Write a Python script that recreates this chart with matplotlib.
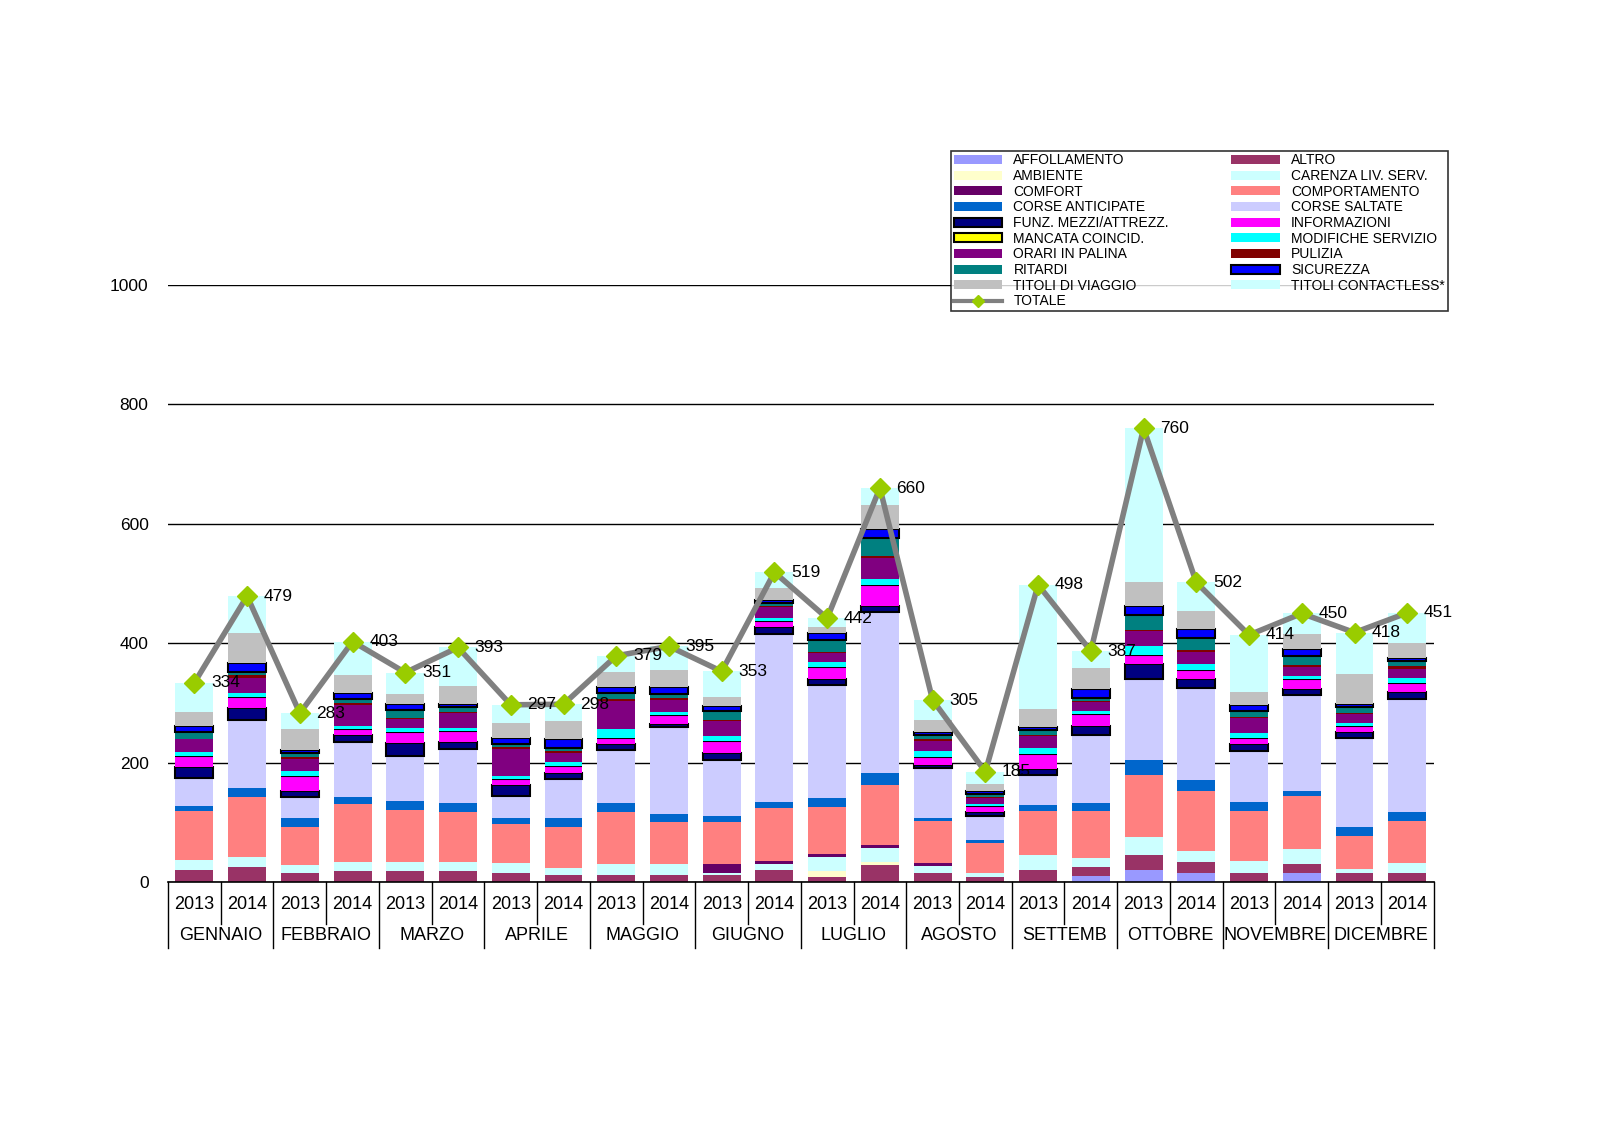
import matplotlib
matplotlib.use("Agg")
import matplotlib.pyplot as plt
from matplotlib.lines import Line2D
from matplotlib.patches import Patch
import numpy as np

plt.rcParams['font.family'] = ['Liberation Sans', 'DejaVu Sans']

months = ["GENNAIO","FEBBRAIO","MARZO","APRILE","MAGGIO","GIUGNO","LUGLIO","AGOSTO","SETTEMB","OTTOBRE","NOVEMBRE","DICEMBRE"]
years = ["2013","2014"]

affollamento = [0,0,0,0,0,0,0,0,0,0,0,0,0,0,0,0,0,10,20,15,0,15,0,0]
altro        = [20,25,15,18,18,18,15,12,12,12,12,20,8,28,15,8,20,15,25,18,15,15,15,15]
ambiente     = [0,0,0,0,0,0,0,0,0,0,0,0,10,5,0,0,0,0,0,0,0,0,0,0]
carenza      = [17,17,13,15,15,15,17,12,18,18,3,10,25,25,12,7,25,15,30,20,20,25,7,17]
comfort      = [0,0,0,0,0,0,0,0,0,0,15,5,5,5,5,0,0,0,0,0,0,0,0,0]
comportamento= [83,100,65,98,88,85,65,68,88,70,70,90,78,100,70,50,75,80,105,100,85,90,55,70]
corse_ant    = [7,15,15,12,15,15,10,15,15,15,10,10,15,20,5,5,10,12,25,18,15,8,15,15]
corse_salt   = [48,115,35,92,75,90,38,65,88,145,95,280,190,270,85,40,50,115,135,155,85,160,150,190]
funz_mezzi   = [18,20,10,12,22,12,18,10,10,5,12,12,10,10,5,8,10,15,25,15,12,10,10,12]
informazioni = [19,18,25,10,18,18,10,12,10,15,20,10,20,35,12,10,25,20,15,15,10,18,10,15]
mancata      = [0]*24
modifiche    = [6,7,8,5,7,5,5,8,15,5,8,5,8,10,10,3,10,5,15,10,8,5,5,8]
orari_palina = [22,25,20,35,15,25,45,15,48,20,25,18,15,35,18,10,20,15,25,20,25,15,15,15]
pulizia      = [0,5,3,3,2,2,3,3,3,3,2,3,2,3,2,2,2,2,3,3,2,3,2,5]
ritardi      = [12,5,7,7,13,8,5,5,10,7,15,5,20,30,8,5,8,5,25,20,10,15,10,8]
sicurezza    = [10,15,5,10,10,5,10,15,10,12,8,5,12,15,5,5,5,15,15,15,10,12,5,5]
titoli       = [23,50,35,30,17,30,25,30,25,28,15,20,10,40,20,12,30,35,40,30,22,25,50,25]
contactless  = [49,62,27,56,36,65,31,28,27,40,43,26,14,29,33,20,208,28,257,48,95,34,69,51]
totale       = [334,479,283,403,351,393,297,298,379,395,353,519,442,660,305,185,498,387,760,502,414,450,418,451]

series = [
 ("AFFOLLAMENTO", affollamento, "#9999ff", None),
 ("ALTRO", altro, "#993366", None),
 ("AMBIENTE", ambiente, "#ffffcc", None),
 ("CARENZA LIV. SERV.", carenza, "#ccffff", None),
 ("COMFORT", comfort, "#660066", None),
 ("COMPORTAMENTO", comportamento, "#ff8080", None),
 ("CORSE ANTICIPATE", corse_ant, "#0066cc", None),
 ("CORSE SALTATE", corse_salt, "#ccccff", None),
 ("FUNZ. MEZZI/ATTREZZ.", funz_mezzi, "#000080", "black"),
 ("INFORMAZIONI", informazioni, "#ff00ff", None),
 ("MANCATA COINCID.", mancata, "#ffff00", "black"),
 ("MODIFICHE SERVIZIO", modifiche, "#00ffff", None),
 ("ORARI IN PALINA", orari_palina, "#800080", None),
 ("PULIZIA", pulizia, "#800000", None),
 ("RITARDI", ritardi, "#008080", None),
 ("SICUREZZA", sicurezza, "#0000ff", "black"),
 ("TITOLI DI VIAGGIO", titoli, "#c0c0c0", None),
 ("TITOLI CONTACTLESS*", contactless, "#ccffff", None),
]

fig = plt.figure(figsize=(16, 11.31), dpi=100)
ax = fig.add_axes([0.105, 0.22, 0.791, 0.528])
x = np.arange(24)
bottom = np.zeros(24)
handles = {}
for name, vals, col, ec in series:
    v = np.array(vals, dtype=float)
    ax.bar(x, v, 0.72, bottom=bottom, color=col, edgecolor=ec if ec else "none",
           linewidth=1.5 if ec else 0, zorder=2)
    bottom += v
    handles[name] = Patch(facecolor=col, edgecolor=ec if ec else col, linewidth=1.5 if ec else 0)

ax.plot(x, totale, color="#808080", lw=4, zorder=3)
ax.plot(x, totale, ls="none", marker="D", ms=10, color="#99cc00", zorder=4)
for xi, t in zip(x, totale):
    ax.annotate(str(t), (xi, t), xytext=(12, 0), textcoords="offset points",
                fontsize=12.5, va="center", zorder=5)
handles["TOTALE"] = Line2D([], [], color="#808080", lw=3, marker="D", mfc="#99cc00", mec="#99cc00", ms=6)

ax.set_xlim(-0.5, 23.5)
ax.set_ylim(0, 1000)
ax.set_yticks([0, 200, 400, 600, 800, 1000])
ax.yaxis.grid(True, color="black", lw=1, zorder=0)
ax.set_axisbelow(True)
for s in ["left", "right", "top"]:
    ax.spines[s].set_visible(False)
ax.tick_params(axis="y", length=0, labelsize=12.5, pad=14)
ax.set_xticks([])
ax.spines["bottom"].set_linewidth(1.2)

tr = ax.get_xaxis_transform()
for i in range(24):
    ax.text(i, -0.037, years[i % 2], transform=tr, ha="center", va="center", fontsize=13)
for m in range(12):
    ax.text(2 * m + 0.5, -0.09, months[m], transform=tr, ha="center", va="center", fontsize=13)
for i in range(25):
    ymin = -0.11 if i % 2 == 0 else -0.07
    ax.plot([i - 0.5, i - 0.5], [0, ymin], transform=tr, color="black", lw=1, clip_on=False)

col1 = ["AFFOLLAMENTO","AMBIENTE","COMFORT","CORSE ANTICIPATE","FUNZ. MEZZI/ATTREZZ.","MANCATA COINCID.","ORARI IN PALINA","RITARDI","TITOLI DI VIAGGIO","TOTALE"]
col2 = ["ALTRO","CARENZA LIV. SERV.","COMPORTAMENTO","CORSE SALTATE","INFORMAZIONI","MODIFICHE SERVIZIO","PULIZIA","SICUREZZA","TITOLI CONTACTLESS*"]
order = col1 + col2
leg = fig.legend([handles[n] for n in order], order, ncol=2, loc="upper left",
                 bbox_to_anchor=(0.59, 0.873), fontsize=10, frameon=True, fancybox=False,
                 edgecolor="black", handlelength=3.5, handleheight=0.6, labelspacing=0.12,
                 columnspacing=4.5, borderpad=0.2)
leg.get_frame().set_linewidth(1.2)

fig.savefig("out.png", dpi=100)
